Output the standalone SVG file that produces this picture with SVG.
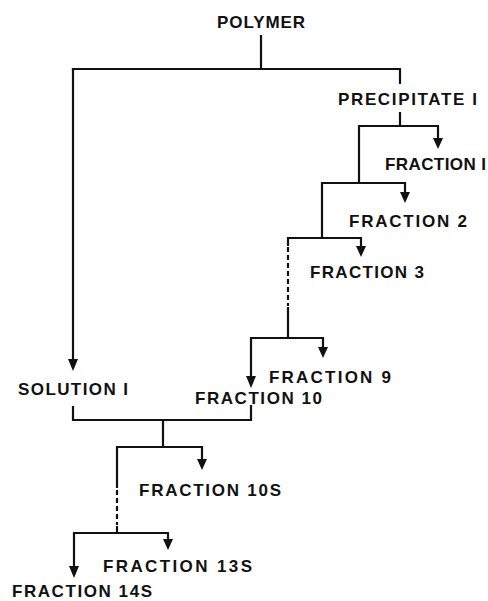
<svg xmlns="http://www.w3.org/2000/svg" width="488" height="601" viewBox="0 0 488 601">
<defs>
<style>
.t{font-family:"Liberation Sans","Arial",sans-serif;font-weight:bold;font-size:17px;fill:#111}
.l{fill:none;stroke:#111;stroke-width:2.2;stroke-linecap:square}
.d{fill:none;stroke:#111;stroke-width:2.2;stroke-dasharray:5 3}
.a{fill:#111}
</style>
</defs>
<rect width="488" height="601" fill="#fff"/>
<g id="connectors">
<path class="l" d="M261,36 V69 M73,69 H400 V83"/>
<path class="l" d="M73,69 V360"/>
<path class="l" d="M400,113 V126 M359,126 H438 V140 M359,126 V183"/>
<path class="l" d="M322,183 H405 V194 M322,183 V238"/>
<path class="l" d="M288,238 H361 V248 M288,238 V245 M288,308 V338"/>
<path class="d" d="M288,247 V306"/>
<path class="l" d="M251,338 H323 V349 M251,338 V378"/>
<path class="l" d="M73,407 V420 H251 V406 M163,420 V447"/>
<path class="l" d="M117,447 H202 V461 M117,447 V487 M117,527 V533"/>
<path class="d" d="M117,490 V525"/>
<path class="l" d="M74,533 H168 V541 M74,533 V568"/>
<path class="a" d="M68,359 H78 L73,371 Z"/>
<path class="a" d="M433,138 H443 L438,149 Z"/>
<path class="a" d="M400,192 H410 L405,203 Z"/>
<path class="a" d="M356,246 H366 L361,257 Z"/>
<path class="a" d="M318,347 H328 L323,358 Z"/>
<path class="a" d="M246,376 H256 L251,388 Z"/>
<path class="a" d="M197,459 H207 L202,470 Z"/>
<path class="a" d="M163,539 H173 L168,550 Z"/>
<path class="a" d="M69,566 H79 L74,578 Z"/>
</g>
<g id="polymer"><text class="t" x="217" y="28" textLength="88" lengthAdjust="spacing">POLYMER</text></g>
<g id="precipitate1"><text class="t" x="338" y="105" textLength="139" lengthAdjust="spacing">PRECIPITATE I</text></g>
<g id="fraction1"><text class="t" x="385" y="170" textLength="101" lengthAdjust="spacing">FRACTION I</text></g>
<g id="fraction2"><text class="t" x="349" y="227" textLength="118" lengthAdjust="spacing">FRACTION 2</text></g>
<g id="fraction3"><text class="t" x="310" y="278" textLength="114" lengthAdjust="spacing">FRACTION 3</text></g>
<g id="fraction9"><text class="t" x="269" y="383" textLength="122" lengthAdjust="spacing">FRACTION 9</text></g>
<g id="fraction10"><text class="t" x="195" y="404" textLength="127" lengthAdjust="spacing">FRACTION 10</text></g>
<g id="solution1"><text class="t" x="18" y="395" textLength="110" lengthAdjust="spacing">SOLUTION I</text></g>
<g id="fraction10s"><text class="t" x="139" y="496" textLength="142" lengthAdjust="spacing">FRACTION 10S</text></g>
<g id="fraction13s"><text class="t" x="103" y="572" textLength="149" lengthAdjust="spacing">FRACTION 13S</text></g>
<g id="fraction14s"><text class="t" x="12" y="597" textLength="140" lengthAdjust="spacing">FRACTION 14S</text></g>
</svg>
